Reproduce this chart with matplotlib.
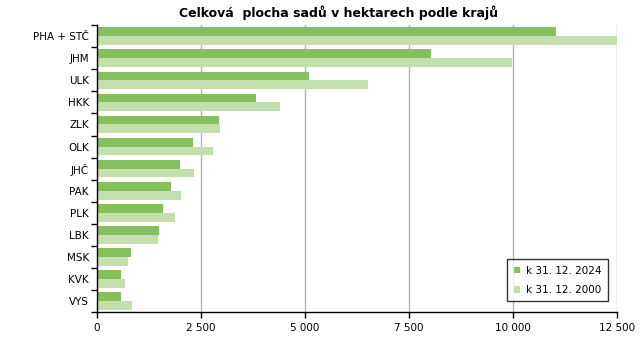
import numpy as np
import matplotlib.pyplot as plt
from matplotlib.ticker import FuncFormatter, FixedLocator

# Data
regions = ['PHA + STČ', 'JHM', 'ULK', 'HKK', 'ZLK', 'OLK', 'JHČ',
           'PAK', 'PLK', 'LBK', 'MSK', 'KVK', 'VYS']
area_2024 = [11030, 8030, 5090, 3820, 2930, 2310, 1990, 1780, 1590, 1490, 820, 580, 580]
area_2000 = [12600, 9980, 6510, 4400, 2960, 2790, 2330, 2020, 1880, 1470, 750, 670, 840]

c_2024 = '#86BF5E'
c_2000 = '#C4DFAE'

fig = plt.figure(figsize=(6.43, 3.40), dpi=100)
ax = fig.add_axes([0.151, 0.082, 0.808, 0.844])

y = np.arange(len(regions))
h = 0.4
ax.barh(y - h / 2, area_2024, height=h, color=c_2024, label='k 31. 12. 2024', zorder=2)
ax.barh(y + h / 2, area_2000, height=h, color=c_2000, label='k 31. 12. 2000', zorder=2)

ax.set_xlim(0, 12500)
ax.set_ylim(len(regions) - 0.5, -0.5)

# x axis
ax.set_xticks([0, 2500, 5000, 7500, 10000, 12500])
ax.xaxis.set_major_formatter(FuncFormatter(lambda v, p: f'{int(v):,}'.replace(',', ' ')))
ax.tick_params(axis='x', labelsize=7.5, length=4, width=1, direction='out', color='black')
ax.grid(axis='x', color='#B4B4B4', linewidth=1, zorder=0)

# y axis: labels centred, tick marks on category boundaries
ax.set_yticks(y)
ax.set_yticklabels(regions, fontsize=7.5)
ax.tick_params(axis='y', which='major', length=0, pad=6)
ax.yaxis.set_minor_locator(FixedLocator(np.arange(-0.5, len(regions), 1)))
ax.tick_params(axis='y', which='minor', length=4, width=1, color='black', direction='out')

for s in ['top', 'right']:
    ax.spines[s].set_visible(False)
for s in ['left', 'bottom']:
    ax.spines[s].set_color('black')
    ax.spines[s].set_linewidth(1)

fig.text(0.526, 0.962, 'Celková  plocha sadů v hektarech podle krajů', fontsize=9,
         fontweight='bold', ha='center', va='center')

leg = ax.legend(loc='lower right', fontsize=7.5, frameon=True, fancybox=False,
                handlelength=0.6, handleheight=0.6, handletextpad=0.6,
                borderpad=0.6, labelspacing=0.9, bbox_to_anchor=(0.993, 0.02))
leg.get_frame().set_edgecolor('black')
leg.get_frame().set_linewidth(1)

fig.savefig('out.png', dpi=100)
